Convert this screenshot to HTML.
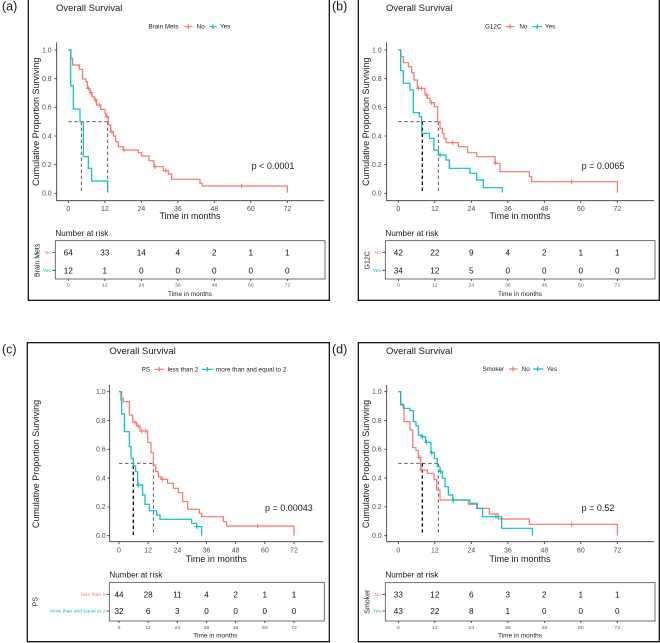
<!DOCTYPE html>
<html><head><meta charset="utf-8"><style>
html,body{margin:0;padding:0;background:#fff;}
svg{display:block;}
text{font-family:"Liberation Sans",Arial,sans-serif;}
</style></head><body>
<svg width="660" height="643" viewBox="0 0 660 643" xmlns="http://www.w3.org/2000/svg">
<rect width="660" height="643" fill="#fff"/>
<g font-size="12.5" fill="#1a1a1a">
<text x="2" y="10.5">(a)</text>
<text x="332" y="10.5">(b)</text>
<text x="2" y="353.5">(c)</text>
<text x="332" y="353.5">(d)</text>
</g>

<!-- Panel A -->
<g transform="scale(0.333333)">
<rect x="85" y="-6" width="903" height="907" fill="none" stroke="#1a1a1a" stroke-width="4"/>
<text x="168" y="33" font-size="28.5" fill="#1a1a1a">Overall Survival</text>
<g font-size="19" fill="#1a1a1a"><text x="445" y="86">Brain Mets</text><text x="590" y="86">No</text><text x="660" y="86">Yes</text></g>
<path d="M553 80H578M565 73V87" stroke="#F8766D" stroke-width="3.6"/>
<path d="M628 80H650M639 73V87" stroke="#00BFC4" stroke-width="3.6"/>
<path d="M170 127V602H972M163 580H170M163 494H170M163 408H170M163 322H170M163 236H170M163 150H170M205 602V609M314.5 602V609M424 602V609M533.5 602V609M643 602V609M752.5 602V609M862 602V609" fill="none" stroke="#333" stroke-width="2.5"/>
<g font-size="21" fill="#4d4d4d" text-anchor="end"><text x="155" y="587">0.0</text><text x="155" y="501">0.2</text><text x="155" y="415">0.4</text><text x="155" y="329">0.6</text><text x="155" y="243">0.8</text><text x="155" y="157">1.0</text></g>
<g font-size="21" fill="#4d4d4d" text-anchor="middle"><text x="205" y="633">0</text><text x="314.5" y="633">12</text><text x="424" y="633">24</text><text x="533.5" y="633">36</text><text x="643" y="633">48</text><text x="752.5" y="633">60</text><text x="862" y="633">72</text></g>
<text x="570" y="657" font-size="27" fill="#1a1a1a" text-anchor="middle">Time in months</text>
<text transform="translate(117 365) rotate(-90)" font-size="27" fill="#1a1a1a" text-anchor="middle">Cumulative Proportion Surviving</text>
<text x="755" y="507" font-size="27" fill="#1a1a1a">p &lt; 0.0001</text>
<path d="M205 365H323M244 365V578M323 365V578" fill="none" stroke="#444" stroke-width="2.6" stroke-dasharray="10 8"/>
<path d="M205 150H213V175H218V195H238V208H248V237H258V245H262V265H270V278H276V290H283V300H290V315H302V328H315V340H318V350H325V375H332V395H340V408H347V425H355V440H370V450H415V458H425V468H447V482H462V500H490V512H505V522H515V538H600V550H607V558H862V578" fill="none" stroke="#F8766D" stroke-width="3.6"/>
<path d="M205 150H212V257H220V327H240V365H250V470H265V505H275V543H323V578" fill="none" stroke="#00BFC4" stroke-width="3.6"/>
<path d="M258 265h14M265 258v14M266 278h14M273 271v14M280 300h14M287 293v14M291 315h14M298 308v14M314 350h14M321 343v14M328 395h14M335 388v14M365 450h14M372 443v14M458 500h14M465 493v14M490 512h14M497 505v14M718 558h14M725 551v14" stroke="#F8766D" stroke-width="3"/>
<text x="166" y="708" font-size="24.5" fill="#1a1a1a">Number at risk</text>
<rect x="166" y="722" width="809" height="115" fill="none" stroke="#555" stroke-width="2.5"/>
<g font-size="24.5" fill="#111" text-anchor="middle">
<text x="205" y="766">64</text><text x="314.5" y="766">33</text><text x="424" y="766">14</text><text x="533.5" y="766">4</text><text x="643" y="766">2</text><text x="752.5" y="766">1</text><text x="862" y="766">1</text>
<text x="205" y="820">12</text><text x="314.5" y="820">1</text><text x="424" y="820">0</text><text x="533.5" y="820">0</text><text x="643" y="820">0</text><text x="752.5" y="820">0</text><text x="862" y="820">0</text>
</g>
<g font-size="15" text-anchor="end"><text x="153" y="762" fill="#F8766D">No</text><text x="153" y="816" fill="#00BFC4">Yes</text></g>
<path d="M157 757H166M157 811H166M205 837V843M314.5 837V843M424 837V843M533.5 837V843M643 837V843M752.5 837V843M862 837V843" stroke="#333" stroke-width="2.5"/>
<text transform="translate(119 781) rotate(-90)" font-size="21" fill="#1a1a1a" text-anchor="middle">Brain Mets</text>
<g font-size="15" fill="#555" text-anchor="middle"><text x="205" y="860">0</text><text x="314.5" y="860">12</text><text x="424" y="860">24</text><text x="533.5" y="860">36</text><text x="643" y="860">48</text><text x="752.5" y="860">60</text><text x="862" y="860">72</text></g>
<text x="570" y="888" font-size="19.5" fill="#1a1a1a" text-anchor="middle">Time in months</text>
</g>

<!-- Panel B -->
<g transform="translate(330 0) scale(0.333333)">
<rect x="85" y="-6" width="903" height="907" fill="none" stroke="#1a1a1a" stroke-width="4"/>
<text x="168" y="33" font-size="28.5" fill="#1a1a1a">Overall Survival</text>
<g font-size="19" fill="#1a1a1a"><text x="465" y="86">G12C</text><text x="568" y="86">No</text><text x="645" y="86">Yes</text></g>
<path d="M527 80H553M540 73V87" stroke="#F8766D" stroke-width="3.6"/>
<path d="M607 80H637M622 73V87" stroke="#00BFC4" stroke-width="3.6"/>
<path d="M170 127V602H972M163 580H170M163 494H170M163 408H170M163 322H170M163 236H170M163 150H170M205 602V609M314.5 602V609M424 602V609M533.5 602V609M643 602V609M752.5 602V609M862 602V609" fill="none" stroke="#333" stroke-width="2.5"/>
<g font-size="21" fill="#4d4d4d" text-anchor="end"><text x="155" y="587">0.0</text><text x="155" y="501">0.2</text><text x="155" y="415">0.4</text><text x="155" y="329">0.6</text><text x="155" y="243">0.8</text><text x="155" y="157">1.0</text></g>
<g font-size="21" fill="#4d4d4d" text-anchor="middle"><text x="205" y="633">0</text><text x="314.5" y="633">12</text><text x="424" y="633">24</text><text x="533.5" y="633">36</text><text x="643" y="633">48</text><text x="752.5" y="633">60</text><text x="862" y="633">72</text></g>
<text x="570" y="657" font-size="27" fill="#1a1a1a" text-anchor="middle">Time in months</text>
<text transform="translate(117 365) rotate(-90)" font-size="27" fill="#1a1a1a" text-anchor="middle">Cumulative Proportion Surviving</text>
<text x="755" y="507" font-size="27" fill="#1a1a1a">p = 0.0065</text>
<path d="M205 365H323M325 365V578" fill="none" stroke="#444" stroke-width="2.6" stroke-dasharray="10 8"/>
<path d="M277 365V578" fill="none" stroke="#000" stroke-width="4" stroke-dasharray="10 8"/>
<path d="M205 150H213V170H220V188H235V200H245V218H252V240H262V265H285V285H292V295H300V308H313V320H323V365H330V385H337V400H342V415H348V428H385V440H413V458H440V470H495V490H510V515H598V530H605V545H862V578" fill="none" stroke="#F8766D" stroke-width="3.6"/>
<path d="M205 150H212V212H220V250H240V270H250V338H268V350H275V400H298V415H312V450H325V465H348V480H358V505H420V520H440V540H460V563H517V578" fill="none" stroke="#00BFC4" stroke-width="3.6"/>
<path d="M258 265h14M265 258v14M268 265h14M275 258v14M283 285h14M290 278v14M298 308h14M305 301v14M361 428h14M368 421v14M490 490h14M497 483v14M718 545h14M725 538v14" stroke="#F8766D" stroke-width="3"/>
<path d="M323 465h14M330 458v14" stroke="#00BFC4" stroke-width="3"/>
<text x="166" y="708" font-size="24.5" fill="#1a1a1a">Number at risk</text>
<rect x="166" y="722" width="809" height="115" fill="none" stroke="#555" stroke-width="2.5"/>
<g font-size="24.5" fill="#111" text-anchor="middle">
<text x="205" y="766">42</text><text x="314.5" y="766">22</text><text x="424" y="766">9</text><text x="533.5" y="766">4</text><text x="643" y="766">2</text><text x="752.5" y="766">1</text><text x="862" y="766">1</text>
<text x="205" y="820">34</text><text x="314.5" y="820">12</text><text x="424" y="820">5</text><text x="533.5" y="820">0</text><text x="643" y="820">0</text><text x="752.5" y="820">0</text><text x="862" y="820">0</text>
</g>
<g font-size="15" text-anchor="end"><text x="153" y="762" fill="#F8766D">No</text><text x="153" y="816" fill="#00BFC4">Yes</text></g>
<path d="M157 757H166M157 811H166M205 837V843M314.5 837V843M424 837V843M533.5 837V843M643 837V843M752.5 837V843M862 837V843" stroke="#333" stroke-width="2.5"/>
<text transform="translate(119 781) rotate(-90)" font-size="21" fill="#1a1a1a" text-anchor="middle">G12C</text>
<g font-size="15" fill="#555" text-anchor="middle"><text x="205" y="860">0</text><text x="314.5" y="860">12</text><text x="424" y="860">24</text><text x="533.5" y="860">36</text><text x="643" y="860">48</text><text x="752.5" y="860">60</text><text x="862" y="860">72</text></g>
<text x="570" y="888" font-size="19.5" fill="#1a1a1a" text-anchor="middle">Time in months</text>
</g>

<!-- Panel C -->
<g transform="translate(0 320) scale(0.333333)">
<rect x="82" y="68" width="906" height="897" fill="none" stroke="#1a1a1a" stroke-width="4"/>
<text x="328" y="102" font-size="28.5" fill="#1a1a1a">Overall Survival</text>
<g font-size="19" fill="#1a1a1a"><text x="425" y="154">PS</text><text x="503" y="154">less than 2</text><text x="648" y="154">more than and equal to 2</text></g>
<path d="M463 148H493M478 141V155" stroke="#F8766D" stroke-width="3.6"/>
<path d="M605 148H640M622 141V155" stroke="#00BFC4" stroke-width="3.6"/>
<path d="M329 195V665H970M322 647H329M322 560.6H329M322 474.2H329M322 387.8H329M322 301.4H329M322 215H329M357 665V672M444.5 665V672M532 665V672M619.5 665V672M707 665V672M794.5 665V672M882 665V672" fill="none" stroke="#333" stroke-width="2.5"/>
<g font-size="21" fill="#4d4d4d" text-anchor="end"><text x="317" y="654">0.0</text><text x="317" y="567.6">0.2</text><text x="317" y="481.2">0.4</text><text x="317" y="394.8">0.6</text><text x="317" y="308.4">0.8</text><text x="317" y="222">1.0</text></g>
<g font-size="21" fill="#4d4d4d" text-anchor="middle"><text x="357" y="697">0</text><text x="444.5" y="697">12</text><text x="532" y="697">24</text><text x="619.5" y="697">36</text><text x="707" y="697">48</text><text x="794.5" y="697">60</text><text x="882" y="697">72</text></g>
<text x="649" y="726" font-size="27" fill="#1a1a1a" text-anchor="middle">Time in months</text>
<text transform="translate(117 432) rotate(-90)" font-size="27" fill="#1a1a1a" text-anchor="middle">Cumulative Proportion Surviving</text>
<text x="795" y="573" font-size="27" fill="#1a1a1a">p = 0.00043</text>
<path d="M357 430H460M460 430V647" fill="none" stroke="#444" stroke-width="2.6" stroke-dasharray="10 8"/>
<path d="M400 437V647" fill="none" stroke="#000" stroke-width="4" stroke-dasharray="10 8"/>
<path d="M357 215H365V235H370V245H388V285H398V307H410V318H420V333H443V367H453V398H460V435H467V455H475V470H483V478H503V490H520V505H535V518H548V545H563V568H598V580H605V590H670V605H680V618H882V647" fill="none" stroke="#F8766D" stroke-width="3.6"/>
<path d="M357 215H363V240H365V282H373V335H388V380H393V415H400V437H407V455H413V495H428V525H435V553H448V572H470V585H480V598H575V610H590V620H605V647" fill="none" stroke="#00BFC4" stroke-width="3.6"/>
<path d="M398 307h14M405 300v14M408 318h14M415 311v14M418 333h14M425 326v14M430 333h14M437 326v14M480 478h14M487 471v14M766 618h14M773 611v14" stroke="#F8766D" stroke-width="3"/>
<path d="M408 495h14M415 488v14M583 620h14M590 613v14" stroke="#00BFC4" stroke-width="3"/>
<text x="328" y="773" font-size="24.5" fill="#1a1a1a">Number at risk</text>
<rect x="328" y="787" width="645" height="116" fill="none" stroke="#555" stroke-width="2.5"/>
<g font-size="24.5" fill="#111" text-anchor="middle">
<text x="357" y="832">44</text><text x="444.5" y="832">28</text><text x="532" y="832">11</text><text x="619.5" y="832">4</text><text x="707" y="832">2</text><text x="794.5" y="832">1</text><text x="882" y="832">1</text>
<text x="357" y="882">32</text><text x="444.5" y="882">6</text><text x="532" y="882">3</text><text x="619.5" y="882">0</text><text x="707" y="882">0</text><text x="794.5" y="882">0</text><text x="882" y="882">0</text>
</g>
<g font-size="15" text-anchor="end"><text x="316" y="828" fill="#F8766D">less than 2</text><text x="316" y="878" fill="#00BFC4">more than and equal to 2</text></g>
<path d="M319 823H328M319 873H328M357 903V909M444.5 903V909M532 903V909M619.5 903V909M707 903V909M794.5 903V909M882 903V909" stroke="#333" stroke-width="2.5"/>
<text transform="translate(112 845) rotate(-90)" font-size="21" fill="#1a1a1a" text-anchor="middle">PS</text>
<g font-size="15" fill="#555" text-anchor="middle"><text x="357" y="927">0</text><text x="444.5" y="927">12</text><text x="532" y="927">24</text><text x="619.5" y="927">36</text><text x="707" y="927">48</text><text x="794.5" y="927">60</text><text x="882" y="927">72</text></g>
<text x="646" y="953" font-size="19.5" fill="#1a1a1a" text-anchor="middle">Time in months</text>
</g>

<!-- Panel D -->
<g transform="translate(330 320) scale(0.333333)">
<rect x="85" y="68" width="903" height="897" fill="none" stroke="#1a1a1a" stroke-width="4"/>
<text x="168" y="102" font-size="28.5" fill="#1a1a1a">Overall Survival</text>
<g font-size="19" fill="#1a1a1a"><text x="457" y="153">Smoker</text><text x="575" y="153">No</text><text x="650" y="153">Yes</text></g>
<path d="M537 147H562M549 140V154" stroke="#F8766D" stroke-width="3.6"/>
<path d="M610 147H640M623 140V154" stroke="#00BFC4" stroke-width="3.6"/>
<path d="M170 195V665H972M163 647H170M163 560.6H170M163 474.2H170M163 387.8H170M163 301.4H170M163 215H170M205 665V672M314.5 665V672M424 665V672M533.5 665V672M643 665V672M752.5 665V672M862 665V672" fill="none" stroke="#333" stroke-width="2.5"/>
<g font-size="21" fill="#4d4d4d" text-anchor="end"><text x="155" y="654">0.0</text><text x="155" y="567.6">0.2</text><text x="155" y="481.2">0.4</text><text x="155" y="394.8">0.6</text><text x="155" y="308.4">0.8</text><text x="155" y="222">1.0</text></g>
<g font-size="21" fill="#4d4d4d" text-anchor="middle"><text x="205" y="697">0</text><text x="314.5" y="697">12</text><text x="424" y="697">24</text><text x="533.5" y="697">36</text><text x="643" y="697">48</text><text x="752.5" y="697">60</text><text x="862" y="697">72</text></g>
<text x="570" y="726" font-size="27" fill="#1a1a1a" text-anchor="middle">Time in months</text>
<text transform="translate(117 432) rotate(-90)" font-size="27" fill="#1a1a1a" text-anchor="middle">Cumulative Proportion Surviving</text>
<text x="755" y="573" font-size="27" fill="#1a1a1a">p = 0.52</text>
<path d="M205 430H325M325 430V647" fill="none" stroke="#444" stroke-width="2.6" stroke-dasharray="10 8"/>
<path d="M277 430V647" fill="none" stroke="#000" stroke-width="4" stroke-dasharray="10 8"/>
<path d="M205 215H212V255H222V305H240V330H248V383H258V392H265V412H272V450H292V460H312V478H320V510H330V540H415V553H440V565H478V582H505V597H598V613H862V647" fill="none" stroke="#F8766D" stroke-width="3.6"/>
<path d="M205 215H212V253H220V265H240V272H250V305H258V318H265V345H275V350H287V367H303V398H313V415H322V440H330V455H337V475H345V500H355V525H368V540H420V550H442V565H458V590H515V625H607V647" fill="none" stroke="#00BFC4" stroke-width="3.6"/>
<path d="M260 412h14M267 405v14M268 450h14M275 443v14M718 613h14M725 606v14" stroke="#F8766D" stroke-width="3"/>
<path d="M270 350h14M277 343v14M283 367h14M290 360v14M298 398h14M305 391v14M325 455h14M332 448v14M363 540h14M370 533v14M491 590h14M498 583v14" stroke="#00BFC4" stroke-width="3"/>
<text x="166" y="772" font-size="24.5" fill="#1a1a1a">Number at risk</text>
<rect x="166" y="788" width="809" height="115" fill="none" stroke="#555" stroke-width="2.5"/>
<g font-size="24.5" fill="#111" text-anchor="middle">
<text x="205" y="832">33</text><text x="314.5" y="832">12</text><text x="424" y="832">6</text><text x="533.5" y="832">3</text><text x="643" y="832">2</text><text x="752.5" y="832">1</text><text x="862" y="832">1</text>
<text x="205" y="882">43</text><text x="314.5" y="882">22</text><text x="424" y="882">8</text><text x="533.5" y="882">1</text><text x="643" y="882">0</text><text x="752.5" y="882">0</text><text x="862" y="882">0</text>
</g>
<g font-size="15" text-anchor="end"><text x="153" y="828" fill="#F8766D">No</text><text x="153" y="878" fill="#00BFC4">Yes</text></g>
<path d="M157 823H166M157 873H166M205 903V909M314.5 903V909M424 903V909M533.5 903V909M643 903V909M752.5 903V909M862 903V909" stroke="#333" stroke-width="2.5"/>
<text transform="translate(119 845) rotate(-90)" font-size="21" fill="#1a1a1a" text-anchor="middle">Smoker</text>
<g font-size="15" fill="#555" text-anchor="middle"><text x="205" y="927">0</text><text x="314.5" y="927">12</text><text x="424" y="927">24</text><text x="533.5" y="927">36</text><text x="643" y="927">48</text><text x="752.5" y="927">60</text><text x="862" y="927">72</text></g>
<text x="570" y="953" font-size="19.5" fill="#1a1a1a" text-anchor="middle">Time in months</text>
</g>
</svg>
</body></html>
